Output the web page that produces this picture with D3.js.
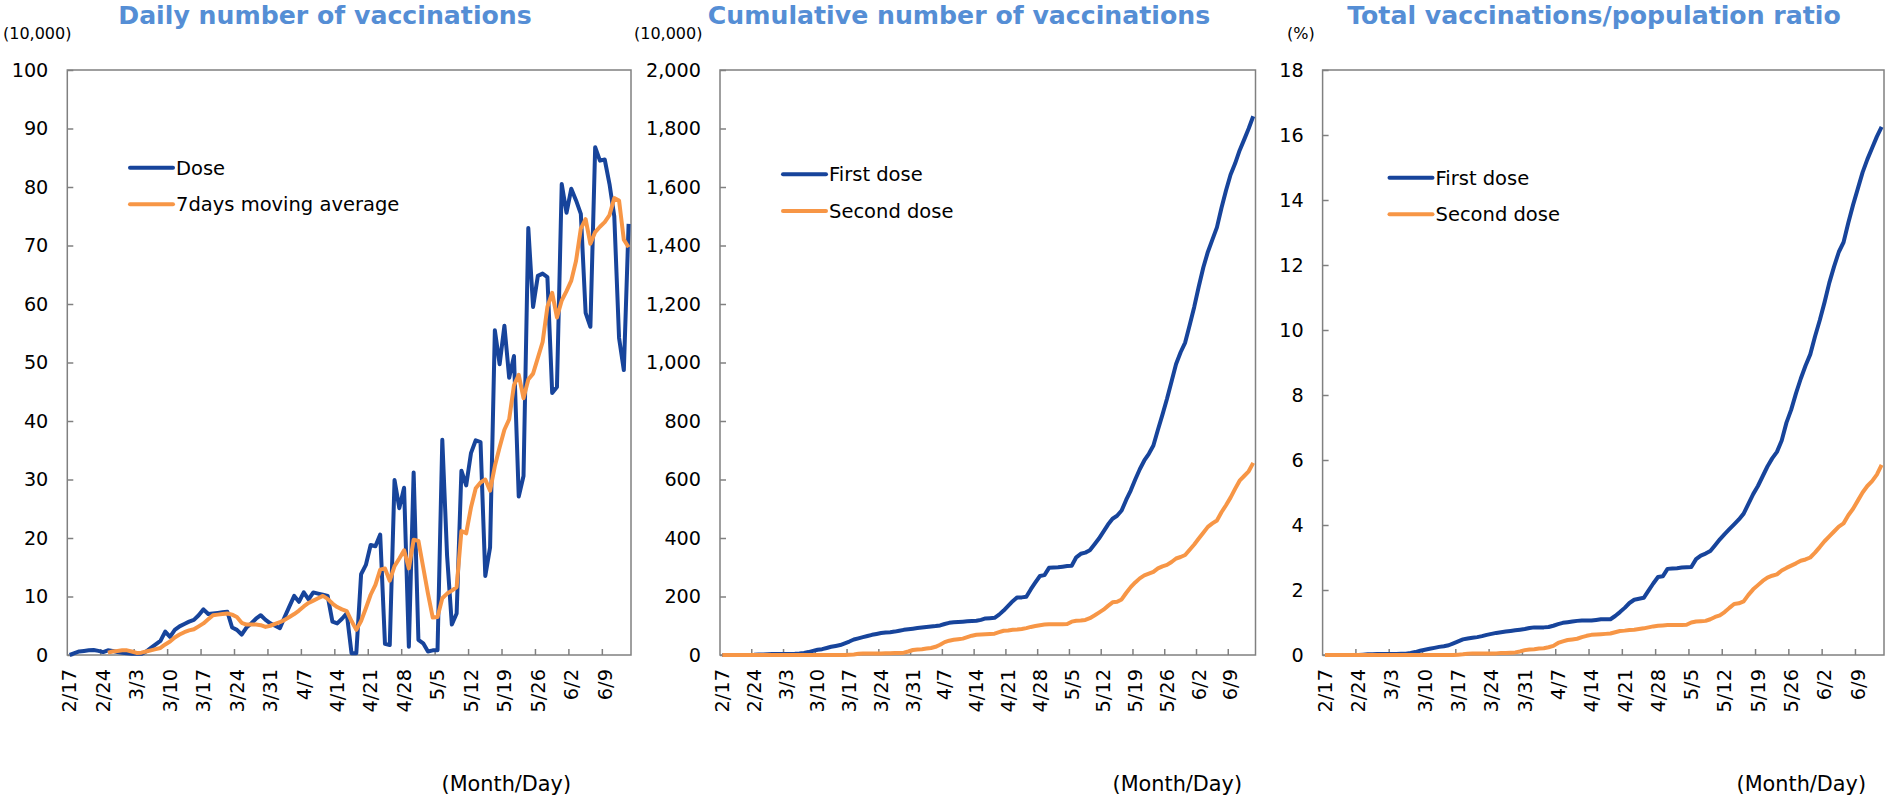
<!DOCTYPE html>
<html><head><meta charset="utf-8">
<script src="https://cdn.jsdelivr.net/npm/d3@7"></script>
<style>
html,body{margin:0;padding:0;background:#fff;}
svg{display:block;}
text{font-family:"DejaVu Sans",Verdana,sans-serif;}
</style></head><body>
<svg id="c" width="1885" height="798"></svg>
<script>
// ---------------- data ----------------
const tickLabels = ["2/17","2/24","3/3","3/10","3/17","3/24","3/31","4/7","4/14","4/21","4/28","5/5","5/12","5/19","5/26","6/2","6/9"];
const dates = d3.timeDay.range(new Date(2021,1,17), new Date(2021,5,15)); // 2/17 .. 6/14

// Daily doses (10,000)
const dose = [0,0.3,0.6,0.7,0.8,0.85,0.7,0.5,0.8,0.7,
0.5,0.4,0.3,0.2,0.2,0.2,0.6,1.2,1.8,2.4,
4.0,3.1,4.3,4.9,5.3,5.7,6.0,6.8,7.8,7.0,
7.1,7.2,7.3,7.4,4.7,4.3,3.5,4.7,5.4,6.2,
6.8,6.0,5.4,5.0,4.6,6.5,8.3,10.1,9.1,10.7,
9.5,10.7,10.5,10.3,10.1,5.7,5.4,6.2,7.1,0.3,
0.3,13.8,15.4,18.8,18.6,20.6,1.9,1.7,29.9,25.1,
28.6,1.4,31.2,2.6,2.0,0.6,0.8,0.8,36.8,17.0,
5.2,7.1,31.5,29.0,34.5,36.7,36.4,13.5,18.4,55.5,
49.7,56.3,47.4,51.1,27.1,30.6,73.0,59.5,64.8,65.2,
64.6,44.8,45.8,80.5,75.6,79.7,77.7,75.4,58.5,56.1,
86.8,84.5,84.7,80.5,75.0,54.2,48.7,73.7];

// 7-day moving average (10,000)
const movingAvg = [null,null,null,null,null,null,null,null,0.4,0.6,
0.7,0.8,0.8,0.6,0.35,0.4,0.6,0.8,1.0,1.2,
1.8,2.3,3.0,3.5,3.9,4.2,4.4,4.9,5.4,6.1,
6.8,6.9,7.0,7.1,6.9,6.5,5.5,5.2,5.2,5.2,
5.1,4.8,5.0,5.3,5.6,6.0,6.5,7.0,7.6,8.3,
8.9,9.3,9.7,10.1,9.6,8.8,8.2,7.8,7.5,5.8,
4.3,5.8,8.0,10.3,12.0,14.6,14.8,12.7,15.2,16.5,
17.9,14.8,19.7,19.5,15.0,10.5,6.4,6.5,9.7,10.5,
11.0,11.6,21.2,20.8,25.2,28.5,29.5,30.0,28.1,32.3,
35.5,38.5,40.3,46.1,47.9,43.9,47.1,48.1,50.8,53.5,
59.5,61.9,57.7,60.6,62.2,64.0,67.4,72.9,74.5,70.3,
72.3,73.2,74.0,75.2,78.1,77.7,71.0,69.7];

// Cumulative first / second dose (10,000)
const cumFirst = [0,0,0,0,0,0,0,0.5,1.5,2,
2.5,3,3,3.2,3.4,3.6,4,5,7,10,
14,18,20,24,28,31,34,40,46,53,
57,61,65,69,72,75,77,78,80,83,
86,88,90,92,94,96,97.5,99,101,106,
110,112,113,114,115,116,117,120,125,126,
127,138,152,168,184,197,197,199,225,248,
270,273,298,299,300,302,304,305,334,346,
350,358,378,398,422,446,466,476,494,530,
562,600,635,665,688,716,770,822,876,935,
995,1035,1068,1128,1190,1260,1325,1378,1420,1462,
1528,1588,1642,1680,1725,1762,1800,1842];

const cumSecond = [0,0,0,0,0,0,0,0,0,0,
0,0,0,0,0,0,0,0,0,0,
0,0,0,0,0,0,0,0,1,2,
4,5,5,5,5,5,6,6,7,7,
8,12,17,19,20,22,24,28,35,44,
49,52,54,56,61,66,69,70,71,72,
73,78,83,84,86,87,89,92,96,99,
102,104,105,105,105,105,106,114,117,118,
120,126,135,145,155,168,180,182,190,212,
232,248,262,272,278,284,296,303,308,318,
330,335,342,360,378,398,418,438,450,460,
488,512,538,568,596,612,628,657];

// Vaccinations / population ratio (%)
const ratioFirst = [0,0,0,0,0,0,0,0,0.01,0.02,
0.02,0.03,0.03,0.03,0.03,0.03,0.04,0.04,0.06,0.09,
0.13,0.16,0.19,0.22,0.25,0.27,0.3,0.36,0.42,0.48,
0.51,0.53,0.55,0.58,0.62,0.65,0.68,0.7,0.72,0.74,
0.76,0.78,0.8,0.83,0.85,0.85,0.85,0.86,0.9,0.95,
0.99,1.01,1.03,1.05,1.06,1.06,1.06,1.08,1.1,1.1,
1.1,1.2,1.32,1.45,1.6,1.7,1.73,1.76,1.98,2.2,
2.4,2.42,2.65,2.66,2.67,2.69,2.7,2.71,2.95,3.06,
3.12,3.2,3.38,3.56,3.72,3.87,4.02,4.17,4.35,4.65,
4.95,5.2,5.5,5.8,6.05,6.25,6.6,7.15,7.55,8.05,
8.5,8.9,9.25,9.8,10.3,10.85,11.45,11.95,12.4,12.7,
13.3,13.85,14.35,14.85,15.25,15.6,15.95,16.25];

const ratioSecond = [0,0,0,0,0,0,0,0,0,0,
0,0,0,0,0,0,0,0,0,0,
0,0,0,0,0,0,0,0,0.01,0.02,
0.04,0.05,0.05,0.05,0.05,0.05,0.05,0.06,0.06,0.07,
0.08,0.11,0.15,0.17,0.18,0.2,0.21,0.24,0.28,0.37,
0.42,0.46,0.48,0.5,0.55,0.59,0.62,0.63,0.64,0.65,
0.66,0.7,0.74,0.75,0.77,0.78,0.8,0.82,0.85,0.88,
0.9,0.91,0.92,0.92,0.92,0.92,0.93,1.0,1.03,1.04,
1.05,1.1,1.17,1.22,1.32,1.45,1.57,1.59,1.65,1.85,
2.02,2.15,2.28,2.38,2.44,2.48,2.6,2.68,2.75,2.82,
2.9,2.94,3.0,3.15,3.32,3.5,3.65,3.8,3.95,4.05,
4.3,4.5,4.75,5.0,5.2,5.35,5.55,5.85];

const titles = ["Daily number of vaccinations","Cumulative number of vaccinations","Total vaccinations/population ratio"];
const units = ["(10,000)","(10,000)","(%)"];
const yTicks1 = [0,10,20,30,40,50,60,70,80,90,100];
const yTicks2 = [0,200,400,600,800,1000,1200,1400,1600,1800,2000];
const yTicks3 = [0,2,4,6,8,10,12,14,16,18];
const legend1 = ["Dose","7days moving average"];
const legend23 = ["First dose","Second dose"];

// ---------------- drawing ----------------
const BLUE = "#17449b", ORANGE = "#f79646", GRID = "#808080";
const svg = d3.select("#c");
const TOP = 70, BOTTOM = 655;

const panels = [
  {left:67.3, right:631, max:100, ticks:yTicks1, fmt:d3.format(","), series:[dose, movingAvg], names:legend1,
   title:titles[0], titleX:325, unit:units[0], unitX:3, legX:130, legY:167.7, mdX:571},
  {left:720, right:1255.5, max:2000, ticks:yTicks2, fmt:d3.format(","), series:[cumFirst, cumSecond], names:legend23,
   title:titles[1], titleX:959, unit:units[1], unitX:634, legX:783, legY:174.3, mdX:1242},
  {left:1322.6, right:1884, max:18, ticks:yTicks3, fmt:d3.format("d"), series:[ratioFirst, ratioSecond], names:legend23,
   title:titles[2], titleX:1594, unit:units[2], unitX:1287, legX:1389.5, legY:177.7, mdX:1866}
];

panels.forEach(p => {
  const g = svg.append("g");
  const x = d3.scaleBand().domain(dates.map((d,i)=>i)).range([p.left, p.right]).padding(0);
  const bw = x.bandwidth();
  const y = d3.scaleLinear().domain([0, p.max]).range([BOTTOM, TOP]);

  // title & unit
  g.append("text").attr("x", p.titleX).attr("y", 24).attr("text-anchor","middle")
    .attr("font-size", 25.2).attr("font-weight","bold").attr("fill","#558ed5").text(p.title);
  g.append("text").attr("x", p.unitX).attr("y", 38.5).attr("font-size", 16).attr("fill","#000").text(p.unit);

  // plot border
  g.append("rect").attr("x", p.left).attr("y", TOP).attr("width", p.right - p.left).attr("height", BOTTOM - TOP)
    .attr("fill","none").attr("stroke", GRID).attr("stroke-width", 1.5);

  // y axis
  const ya = g.append("g").attr("transform", `translate(${p.left},0)`)
    .call(d3.axisLeft(y).tickValues(p.ticks).tickSize(-6).tickPadding(19).tickFormat(p.fmt));
  ya.select(".domain").remove();
  ya.selectAll("line").attr("stroke", GRID).attr("stroke-width", 1.5);
  ya.selectAll("text").attr("font-size", 19.2).attr("fill","#000")
    .attr("font-family", '"DejaVu Sans",Verdana,sans-serif');

  // x tick marks at week boundaries
  const boundaries = dates.map((d,i)=>i).filter(i => i > 0 && i % 7 === 0);
  g.append("g").selectAll("line").data(boundaries).join("line")
    .attr("x1", i => x(i)).attr("x2", i => x(i))
    .attr("y1", BOTTOM).attr("y2", BOTTOM - 6)
    .attr("stroke", GRID).attr("stroke-width", 1.5);

  // x labels at category centres
  const labelIdx = dates.map((d,i)=>i).filter(i => i % 7 === 0);
  const xa = g.append("g").attr("transform", `translate(0,${BOTTOM})`)
    .call(d3.axisBottom(x).tickValues(labelIdx).tickSize(0).tickFormat(i => tickLabels[i/7]));
  xa.select(".domain").remove();
  xa.selectAll("text").attr("transform","rotate(-90)").attr("x", -14).attr("y", 0).attr("dy","0.35em")
    .attr("text-anchor","end").attr("font-size", 19.4).attr("fill","#000")
    .attr("font-family", '"DejaVu Sans",Verdana,sans-serif');

  // lines
  const line = d3.line().defined(d => d != null).x((d,i) => x(i) + bw/2).y(d => y(d));
  const colors = [BLUE, ORANGE];
  p.series.forEach((s, k) => {
    g.append("path").datum(s).attr("d", line).attr("fill","none")
      .attr("stroke", colors[k]).attr("stroke-width", 4).attr("stroke-linejoin","round");
  });

  // legend
  p.names.forEach((n, k) => {
    const ly = p.legY + k * 36.6;
    g.append("line").attr("x1", p.legX).attr("x2", p.legX + 43).attr("y1", ly).attr("y2", ly)
      .attr("stroke", colors[k]).attr("stroke-width", 4).attr("stroke-linecap","round");
    g.append("text").attr("x", p.legX + 46).attr("y", ly).attr("dy","0.36em")
      .attr("font-size", 19.5).attr("fill","#000").text(n);
  });

  // month/day label
  g.append("text").attr("x", p.mdX).attr("y", 791).attr("text-anchor","end")
    .attr("font-size", 20.8).attr("fill","#000").text("(Month/Day)");
});
</script>
</body></html>
